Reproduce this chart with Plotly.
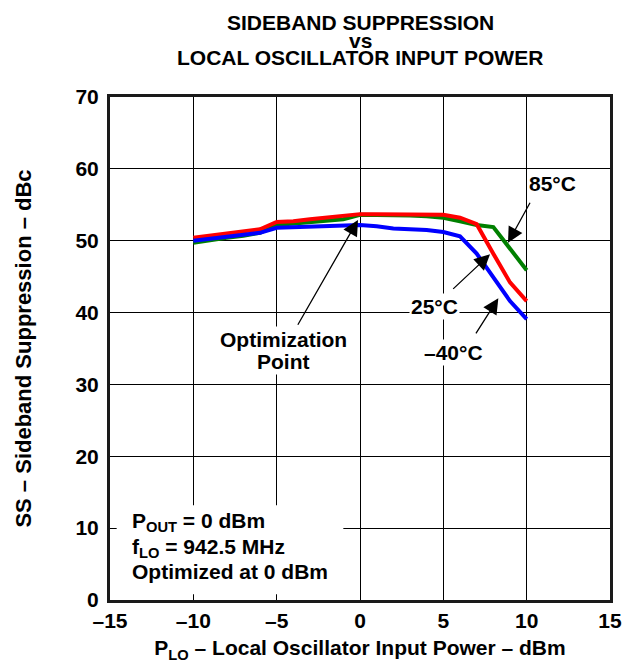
import plotly.graph_objects as go

# LO input power sweep (dBm)
p_lo = [-10, -9, -8, -7, -6, -5, -4, -3, -2, -1, 0, 1, 2, 3, 4, 5, 6, 7, 8, 9, 10]

# Sideband suppression (dBc) at each temperature
ss_85c = [49.7, 50.1, 50.4, 50.7, 51.1, 52.2, 52.4, 52.6, 52.8, 53.0, 53.6,
          53.6, 53.6, 53.5, 53.4, 53.2, 52.7, 52.2, 51.9, 48.9, 45.9]
ss_25c = [50.4, 50.7, 51.0, 51.3, 51.6, 52.6, 52.7, 53.0, 53.2, 53.4, 53.7,
          53.7, 53.7, 53.7, 53.6, 53.6, 53.2, 52.3, 48.2, 44.2, 41.6]
ss_m40c = [50.0, 50.3, 50.6, 50.8, 51.1, 51.8, 51.9, 52.0, 52.1, 52.2, 52.2,
           52.0, 51.7, 51.6, 51.5, 51.2, 50.6, 48.2, 44.8, 41.6, 39.1]

x_ticks = [-15, -10, -5, 0, 5, 10, 15]
x_tick_text = ["\u201315", "\u201310", "\u20135", "0", "5", "10", "15"]
y_ticks = [0, 10, 20, 30, 40, 50, 60, 70]

FONT = "Liberation Sans, Arial, sans-serif"


def bold(size=21):
    return dict(family=FONT, size=size, color="black", weight="bold")


fig = go.Figure()
for ys, col in [(ss_85c, "#008000"), (ss_25c, "#ff0000"), (ss_m40c, "#0000ff")]:
    fig.add_trace(go.Scatter(x=p_lo, y=ys, mode="lines",
                             line=dict(color=col, width=4), showlegend=False,
                             hoverinfo="skip"))

axis_common = dict(showgrid=True, gridcolor="black", gridwidth=1.3,
                   showline=True, linecolor="#1a1a1a", linewidth=3, mirror=True,
                   zeroline=False, ticks="", tickfont=bold(21), automargin=False)

fig.update_xaxes(range=[-15, 15], tickvals=x_ticks, ticktext=x_tick_text,
                 ticklabelstandoff=0,
                 title=dict(text="P<sub>LO</sub> \u2013 Local Oscillator Input Power \u2013 dBm",
                            font=bold(21), standoff=10),
                 **axis_common)
fig.update_yaxes(range=[0, 70], tickvals=y_ticks, ticklabelstandoff=4,
                 title=dict(text="SS \u2013 Sideband Suppression \u2013 dBc",
                            font=bold(22), standoff=38),
                 **axis_common)

# white panel behind the conditions note, hiding the grid there
fig.add_shape(type="rect", xref="x", yref="y", x0=-14.6, x1=-1.0, y0=0.8, y1=13.2,
              fillcolor="white", line=dict(width=0), layer="between")

note_lines = [("P<sub>OUT</sub> = 0 dBm", 10.9),
              ("f<sub>LO</sub> = 942.5 MHz", 7.3),
              ("Optimized at 0 dBm", 3.95)]
for txt, ty in note_lines:
    fig.add_annotation(xref="x", yref="y", x=-13.8, y=ty, xanchor="left", yanchor="middle",
                       align="left", showarrow=False, font=bold(21), text=txt)

# pointers: (head x, head y, tail x, tail y)
pointers = [
    (8.88, 49.7, 10.25, 55.5),
    (7.8, 48.1, 5.5, 43.1),
    (8.3, 42.0, 6.9, 36.9),
    (-0.12, 52.9, -3.78, 38.1),
]
for hx, hy, sx, sy in pointers:
    fig.add_annotation(xref="x", yref="y", x=hx, y=hy, ax=sx, ay=sy,
                       axref="x", ayref="y", text="", showarrow=True,
                       arrowhead=2, arrowsize=2.4, arrowwidth=1.3,
                       arrowcolor="black", standoff=0, startstandoff=0)

# curve labels
curve_labels = [
    ("85\u00b0C", 11.55, 58.0),
    ("25\u00b0C", 4.44, 40.9),
    ("\u201340\u00b0C", 5.58, 34.4),
    ("Optimization", -4.62, 36.2),
    ("Point", -4.62, 33.2),
]
for txt, tx, ty in curve_labels:
    fig.add_annotation(xref="x", yref="y", x=tx, y=ty, text=txt, showarrow=False,
                       font=bold(21), bgcolor="white", borderpad=1)

# three-line chart heading
for txt, py in [("SIDEBAND SUPPRESSION", 1.149), ("vs", 1.113),
                ("LOCAL OSCILLATOR INPUT POWER", 1.078)]:
    fig.add_annotation(xref="paper", yref="paper", x=0.5, y=py, text=txt, showarrow=False,
                       font=bold(21), xanchor="center", yanchor="middle")

fig.update_layout(width=623, height=663, margin=dict(l=110, r=13, t=97, b=63),
                  plot_bgcolor="white", paper_bgcolor="white")

fig.write_html("out.html")
